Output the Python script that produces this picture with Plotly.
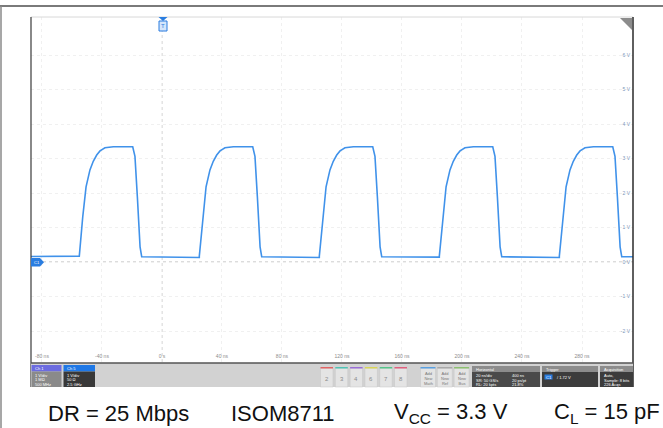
import plotly.graph_objects as go

# ---------------- data ----------------
x_tick_vals = [-80, -40, 0, 40, 80, 120, 160, 200, 240, 280]
x_tick_text = ["-80 ns", "-40 ns", "0 s", "40 ns", "80 ns", "120 ns", "160 ns", "200 ns", "240 ns", "280 ns"]
y_tick_vals = [6, 5, 4, 3, 2, 1, 0, -1, -2]
y_tick_text = ["6 V", "5 V", "4 V", "3 V", "2 V", "1 V", "0 V", "-1 V", "-2 V"]

# rising-edge start times of the five pulses (ns)
rise_times = [-55.1, 24.9, 104.9, 184.9, 264.9]
# shape of one pulse, relative to its rising edge (ns, V)
pulse_dt = [0.0, 2.3, 4.5, 7.1, 9.3, 11.6, 13.8, 17.1, 22.7, 35.6, 37.1, 38.7, 40.5, 41.6]
pulse_v = [0.17, 1.31, 2.18, 2.67, 2.92, 3.10, 3.22, 3.31, 3.34, 3.34, 3.06, 1.89, 0.44, 0.15]
# low level before the first pulse, between pulses and after the last pulse (V)
low_levels = [0.16, 0.13, 0.13, 0.14, 0.13, 0.15]
t_start, t_end = -87.3, 314.0

caption_parts = ["DR = 25 Mbps", "ISOM8711", "V<sub>CC</sub> = 3.3 V", "C<sub>L</sub> = 15 pF"]

# ---------------- build trace ----------------
t = [t_start]
v = [low_levels[0]]
for i, t0 in enumerate(rise_times):
    t.append(t0 - 0.01)
    v.append(low_levels[i])
    for d, val in zip(pulse_dt, pulse_v):
        t.append(t0 + d)
        v.append(val)
t.append(t_end)
v.append(low_levels[-1])

W, H = 663, 428
L, R, T, B = 31, 633, 17, 362


def px(xp):
    return (xp - L) / (R - L)


def py(yp):
    return (B - yp) / (B - T)


fig = go.Figure()
fig.add_trace(go.Scatter(x=t, y=v, mode="lines",
                         line=dict(color="rgb(64,146,234)", width=1.6),
                         hoverinfo="skip", showlegend=False))

shapes = []
annots = []


def rect(x0, y0, x1, y1, fill, line=None, lw=0):
    shapes.append(dict(type="rect", xref="paper", yref="paper",
                       x0=px(x0), x1=px(x1), y0=py(y1), y1=py(y0),
                       fillcolor=fill, line=dict(color=line or fill, width=lw), layer="above"))


def hline(x0, x1, y, color, w=1, dash="solid"):
    shapes.append(dict(type="line", xref="paper", yref="paper",
                       x0=px(x0), x1=px(x1), y0=py(y), y1=py(y),
                       line=dict(color=color, width=w, dash=dash), layer="above"))


def vline(x, y0, y1, color, w=1, dash="solid"):
    shapes.append(dict(type="line", xref="paper", yref="paper",
                       x0=px(x), x1=px(x), y0=py(y0), y1=py(y1),
                       line=dict(color=color, width=w, dash=dash), layer="above"))


def text(x, y, s, size=4, color="white", anchor="left", family="Liberation Sans"):
    annots.append(dict(xref="paper", yref="paper", x=px(x), y=py(y), text=s,
                       showarrow=False, xanchor=anchor, yanchor="middle",
                       font=dict(size=size, color=color, family=family)))


def path(points, fill):
    d = "M " + " L ".join(f"{px(a)},{py(b)}" for a, b in points) + " Z"
    shapes.append(dict(type="path", xref="paper", yref="paper", path=d,
                       fillcolor=fill, line=dict(color=fill, width=0), layer="above"))


# outer frame
hline(0, 663, 6, "#7a7a7a", 2)
vline(1, 6, 428, "#8a8a8a", 1.5)

# reference lines (0 s, 0 V)
shapes.append(dict(type="line", xref="x", yref="paper", x0=0, x1=0, y0=0, y1=1,
                   line=dict(color="#c4c4c4", width=1, dash="dot"), layer="below"))
shapes.append(dict(type="line", xref="paper", yref="y", x0=0, x1=1, y0=0, y1=0,
                   line=dict(color="#b8b8b8", width=1, dash="dot"), layer="below"))

# plot borders
hline(L, R, T, "#d8d8d8", 1)
vline(L, T, 387, "#3a3a3a", 1.2)
vline(R, T, 387, "#2a2a2a", 1.5)

# trigger position marker at top
path([(158.5, 17), (167.5, 17), (163, 21)], "#2a7de0")
rect(159, 21, 167, 31, "#d5e6fb", "#2a7de0", 1)
text(163, 26, "T", 6, "#2a7de0", "center")
# top-right corner marker
path([(620, 18), (632, 18), (632, 30)], "#8c8c8c")
# ground marker (C1)
path([(31, 258), (40, 258), (44, 262.3), (40, 266.6), (31, 266.6)], "#2a7de0")
text(36.5, 262.3, "C1", 4, "white", "center")

# ---------------- bottom control panel ----------------
rect(L, 363, R, 387, "#d2d2d2")
hline(L, R, 363, "#555555", 1.5)
# Ch 1 badge
rect(31.5, 365, 61.5, 371.5, "#6c6ce0")
rect(31.5, 371.5, 61.5, 387, "#8a8a8a")
text(33, 368.3, "Ch 1", 4)
text(33, 375, "1 V/div", 4)
text(33, 379.5, "1 MΩ", 4)
text(33, 384, "500 MHz", 4)
# Ch 5 badge
rect(63.5, 365, 95, 371.5, "#1f78e6")
rect(63.5, 371.5, 95, 387, "#383838")
text(65, 368.3, "Ch 5", 4)
text(65, 375, "1 V/div", 4)
text(65, 379.5, "50 Ω", 4)
text(65, 384, "2.5 GHz", 4)
# channel buttons
btn_labels = ["2", "3", "4", "6", "7", "8"]
btn_cols = ["#e06464", "#4fc2b4", "#9a6ed6", "#d8d458", "#56c48a", "#e0607e"]
bx = 320.5
for lab, col in zip(btn_labels, btn_cols):
    rect(bx, 368, bx + 12.5, 387, "#e4e4e4", "#c4c4c4", 0.5)
    rect(bx, 367, bx + 12.5, 368.5, col)
    text(bx + 6.25, 378.5, lab, 6, "#8a8a8a", "center")
    bx += 14.8
# add new buttons
add_labels = ["Add<br>New<br>Math", "Add<br>New<br>Ref", "Add<br>New<br>Bus"]
add_cols = ["#5aa0e0", "#a8a8a8", "#8cc070"]
bx = 420.5
for lab, col in zip(add_labels, add_cols):
    rect(bx, 368, bx + 15, 387, "#e4e4e4", "#c4c4c4", 0.5)
    rect(bx, 367, bx + 15, 368.5, col)
    text(bx + 7.5, 378, lab, 4, "#777777", "center")
    bx += 16.8
# horizontal box
rect(472, 366, 540, 372, "#8c8c8c")
rect(472, 372, 540, 387, "#4a4a4a")
text(474, 369, "Horizontal", 4)
text(474, 375.5, "20 ns/div", 4)
text(510, 375.5, "400 ns", 4)
text(474, 380, "SR: 50 GS/s", 4)
text(510, 380, "20 ps/pt", 4)
text(474, 384.5, "RL: 20 kpts", 4)
text(510, 384.5, "21.8%", 4)
# trigger box
rect(542, 366, 598, 372, "#8c8c8c")
rect(542, 372, 598, 387, "#3c3c3c")
text(544, 369, "Trigger", 4)
rect(544.5, 374.5, 552.5, 379.5, "#2a7de0")
text(548.5, 377, "C1", 4, "white", "center")
text(555, 377, "/ 1.72 V", 4)
# acquisition box
rect(600, 366, 633, 372, "#8c8c8c")
rect(600, 372, 633, 387, "#3c3c3c")
text(602, 369, "Acquisition", 4)
text(602, 375.5, "Auto,", 4)
text(602, 380, "Sample: 8 bits", 4)
text(602, 384.5, "226 Acqs", 4)

# ---------------- caption ----------------
cap_x = [46, 229, 392, 552]
for s, xx in zip(caption_parts, cap_x):
    annots.append(dict(xref="paper", yref="paper", x=px(xx), y=py(413), text=s,
                       showarrow=False, xanchor="left", yanchor="middle",
                       font=dict(size=22, color="#111111", family="Liberation Sans")))

fig.update_layout(
    width=W, height=H,
    margin=dict(l=L, r=W - R, t=T, b=H - B, pad=0),
    paper_bgcolor="white", plot_bgcolor="white",
    showlegend=False,
    shapes=shapes, annotations=annots,
    xaxis=dict(range=[t_start, (R - 162) / 1.5], tickvals=x_tick_vals, ticktext=x_tick_text,
               ticklabelposition="inside", ticks="", showline=False, zeroline=False,
               showgrid=True, gridcolor="#f0f0f0", griddash="dot", gridwidth=1,
               tickfont=dict(size=5, color="#8c8c8c", family="Liberation Sans"), fixedrange=True),
    yaxis=dict(range=[-(B - 262) / 34.5, (262 - T) / 34.5], tickvals=y_tick_vals, ticktext=y_tick_text,
               side="right", ticklabelposition="inside", ticks="", showline=False, zeroline=False,
               showgrid=True, gridcolor="#f0f0f0", griddash="dot", gridwidth=1,
               tickfont=dict(size=5, color="#7d96b8", family="Liberation Sans"), fixedrange=True),
)

fig.write_html("out.html", config={"displayModeBar": False},
               post_script="document.body.style.margin='0';document.body.style.overflow='hidden';")
